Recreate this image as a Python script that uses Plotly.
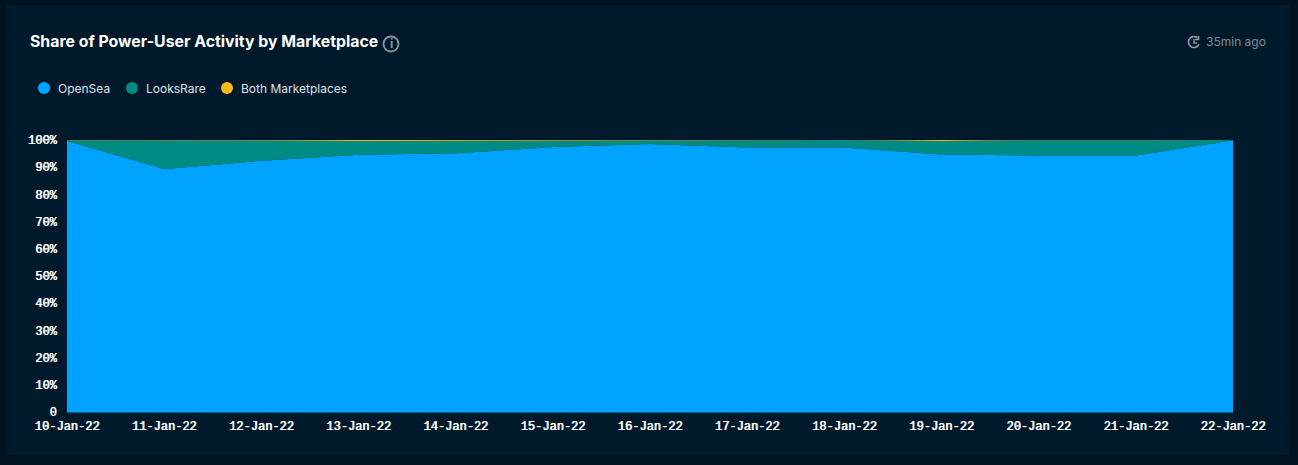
import math
import plotly.graph_objects as go

W, H = 1298, 465
dates = ["10-Jan-22", "11-Jan-22", "12-Jan-22", "13-Jan-22", "14-Jan-22", "15-Jan-22", "16-Jan-22",
         "17-Jan-22", "18-Jan-22", "19-Jan-22", "20-Jan-22", "21-Jan-22", "22-Jan-22"]
opensea = [99.6, 89.3, 92.4, 94.6, 95.1, 97.4, 98.5, 97.2, 97.2, 94.7, 94.3, 94.3, 99.9]
looksrare = [0.3, 10.6, 7.4, 5.0, 4.55, 2.4, 1.45, 2.8, 2.8, 4.95, 5.65, 5.65, 0.1]
both = [0.1, 0.1, 0.2, 0.4, 0.35, 0.2, 0.05, 0.0, 0.0, 0.35, 0.05, 0.05, 0.0]
y_ticks = [0, 10, 20, 30, 40, 50, 60, 70, 80, 90, 100]
y_labels = ["0", "10%", "20%", "30%", "40%", "50%", "60%", "70%", "80%", "90%", "100%"]
names = ["OpenSea", "LooksRare", "Both Marketplaces"]
colors = ["#00A3FF", "#008B85", "#F5B919"]

PAGE, CARD = "#00131F", "#001A2C"
ICON = "#8A97A1"
X0, X1, Y0, Y1 = 67, 1233, 140, 412
px = lambda x: (x - X0) / (X1 - X0)
py = lambda y: (Y1 - y) / (Y1 - Y0)

fig = go.Figure()
for name, vals, c in zip(names, [opensea, looksrare, both], colors):
    fig.add_trace(go.Scatter(x=dates, y=vals, stackgroup="one", mode="lines", name=name,
                             line=dict(color=c, width=0), fillcolor=c, showlegend=False))


def txt(x, y, s, size, color, family="Inter", anchor="left"):
    fig.add_annotation(xref="paper", yref="paper", x=px(x), y=py(y), text=s, showarrow=False,
                       xanchor=anchor, yanchor="middle", align="left", borderpad=0, borderwidth=0,
                       xshift=0, font=dict(family=family, size=size, color=color))


txt(30, 42, "<b>Share of Power-User Activity by Marketplace</b>", 15.85, "#FFFFFF")
txt(391, 44, "<b>i</b>", 12, ICON, anchor="center")
txt(1206, 42, "35min ago", 12, "#7F8C96")


def circle(cx, cy, r, **kw):
    return dict(type="circle", xref="paper", yref="paper", x0=px(cx - r), x1=px(cx + r),
                y0=py(cy + r), y1=py(cy - r), **kw)


def poly(points, width=1.5):
    d = "M " + " L ".join(f"{px(a):.5f} {py(b):.5f}" for a, b in points)
    return dict(type="path", xref="paper", yref="paper", path=d, line=dict(color=ICON, width=width))


arc = [(1194 + 5.5 * math.cos(math.radians(a)), 42 + 5.5 * math.sin(math.radians(a)))
       for a in range(-50, -340, -15)]
shapes = [
    dict(type="rect", xref="paper", yref="paper", x0=px(6), x1=px(1290), y0=py(455), y1=py(5),
         fillcolor=CARD, line_width=0, layer="below"),
    circle(391, 44, 7.5, line=dict(color=ICON, width=1.8)),
    poly(arc, 1.7),
    poly([(1194, 39), (1194, 43), (1197, 43)], 1.4),
    poly([(1198.5, 36), (1198.5, 39.5), (1195, 39.5)], 1.6),
]
for name, c, dot_x, text_x in zip(names, colors, [44, 132, 227], [58, 146, 241]):
    shapes.append(circle(dot_x, 88, 6, fillcolor=c, line_width=0))
    txt(text_x, 88, name, 12, "#DDE3E8")

tick_font = dict(family="Liberation Mono", size=12, color="#FFFFFF", shadow="0.7px 0 0 #FFFFFF")
EDGE = "#0A5F90"
fig.update_layout(
    width=W, height=H, margin=dict(l=X0, r=W - X1, t=Y0, b=H - Y1, pad=0), autosize=False,
    paper_bgcolor=PAGE, plot_bgcolor=CARD, shapes=shapes, showlegend=False,
    font=dict(family="Inter", color="#FFFFFF"),
    xaxis=dict(type="category", range=[0, 12], showgrid=False, zeroline=False,
               tickmode="array", tickvals=dates, ticktext=dates, tickangle=0,
               ticks="outside", ticklen=3, tickcolor="rgba(0,0,0,0)",
               showline=True, linecolor=EDGE, linewidth=1, tickfont=tick_font),
    yaxis=dict(range=[0, 100], showgrid=False, zeroline=False,
               tickmode="array", tickvals=y_ticks, ticktext=y_labels,
               ticks="outside", ticklen=7, tickcolor="rgba(0,0,0,0)",
               showline=False, tickfont=tick_font),
)
fig.write_html("out.html", config=dict(displayModeBar=False),
               post_script="document.body.style.margin='0';document.body.style.overflow='hidden';document.body.style.background='#00131F';")
